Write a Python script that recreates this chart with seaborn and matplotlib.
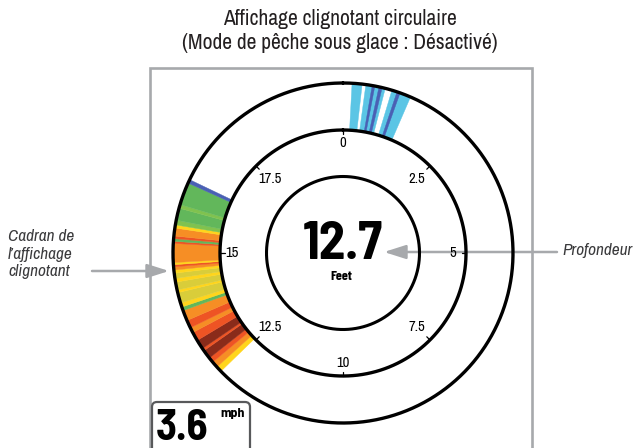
import numpy as np
import matplotlib
matplotlib.use("Agg")
import matplotlib.pyplot as plt
from matplotlib.patches import FancyBboxPatch
import seaborn as sns

# --- data ---------------------------------------------------------------
depth_reading = "12.7"
depth_unit = "Feet"
speed_reading = "3.6"
speed_unit = "mph"
dial_max = 20.0
dial_ticks = [0, 2.5, 5, 7.5, 10, 12.5, 15, 17.5]
dial_labels = ["0", "2.5", "5", "7.5", "10", "12.5", "15", "17.5"]

# surface clutter near 0 ft (start, end, strength)
surface_start = [0.17, 0.43, 0.93, 0.55, 0.68, 1.03]
surface_end = [0.36, 0.80, 1.30, 0.60, 0.74, 1.09]
surface_level = ["cyan", "cyan", "cyan", "blue", "blue", "blue"]

# bottom return around 12.6 - 16.4 ft (edges and strength between them)
bottom_edges = [12.55, 12.66, 12.78, 12.88, 13.05, 13.10, 13.28, 13.45, 13.55,
                13.70, 13.90, 13.97, 14.05, 14.25, 14.30, 14.45, 14.52, 14.62,
                14.68, 14.74, 14.78, 14.82, 15.18, 15.22, 15.27, 15.32, 15.47,
                15.53, 15.62, 15.85, 15.92, 16.35, 16.42]
bottom_level = ["yellow", "orange", "red", "darkred", "red", "darkred", "red",
                "orange", "red", "orange", "green", "yellow", "olive", "yellow",
                "olive", "yellow", "olive", "yellow", "orange", "red", "yellow",
                "orange", "red", "green", "red", "orange", "yellow", "lightgreen",
                "green", "lightgreen", "green", "blue"]

title_lines = ["Affichage clignotant circulaire",
               "(Mode de pêche sous glace : Désactivé)"]
left_label = "Cadran de\nl\u2019affichage\nclignotant"
right_label = "Profondeur"

# --- style --------------------------------------------------------------
sns.set_style("white")
plt.rcParams["font.family"] = ["Archivo Narrow", "DejaVu Sans"]
plt.rcParams["font.stretch"] = "condensed"
narrow = ["Archivo Narrow", "DejaVu Sans"]
bold_cond = ["Barlow Condensed", "DejaVu Sans"]
bold_semi = ["Barlow Semi Condensed", "DejaVu Sans"]

palette = dict(zip(
    ["cyan", "blue", "green", "lightgreen", "olive", "yellow", "orange", "red", "darkred"],
    sns.color_palette(["#5BC5E5", "#4A60B4", "#62B75B", "#80C24F", "#D9CD3A",
                       "#FFD51C", "#F68E25", "#EE5424", "#8A2B1A"])))
frame_gray = "#A7A9AC"
text_dark = "#231F20"

W, H = 639, 448
fig = plt.figure(figsize=(W / 100, H / 100), dpi=100)
bg = fig.add_axes([0, 0, 1, 1])
bg.set_xlim(0, W)
bg.set_ylim(H, 0)
bg.axis("off")

# dial geometry (pixels)
cx, cy = 343, 253
r_out, r_mid, r_in = 170, 123, 76.5

ax = fig.add_axes([(cx - r_out) / W, (H - cy - r_out) / H, 2 * r_out / W, 2 * r_out / H],
                  projection="polar")
ax.set_theta_zero_location("N")
ax.set_theta_direction(-1)
ax.set_ylim(0, r_out)
ax.set_axis_off()
ax.patch.set_visible(False)


def to_theta(d):
    return np.asarray(d, dtype=float) / dial_max * 2 * np.pi


# flasher segments
for s, e, lv in zip(surface_start, surface_end, surface_level):
    ax.bar(to_theta(s), r_out - r_mid, width=to_theta(e) - to_theta(s), bottom=r_mid,
           align="edge", color=palette[lv], edgecolor=palette[lv], linewidth=0.3, zorder=2)
for s, e, lv in zip(bottom_edges[:-1], bottom_edges[1:], bottom_level):
    ax.bar(to_theta(s), r_out - r_mid, width=to_theta(e) - to_theta(s), bottom=r_mid,
           align="edge", color=palette[lv], edgecolor=palette[lv], linewidth=0.3, zorder=2)

# rings
th = np.linspace(0, 2 * np.pi, 500)
for r, lw in [(r_out, 2.4), (r_mid, 2.4), (r_in, 2.2)]:
    ax.plot(th, np.full_like(th, r), color="black", lw=lw, clip_on=False, zorder=4)

# dial ticks and labels
for d, lab in zip(dial_ticks, dial_labels):
    t = to_theta(d)
    ax.plot([t, t], [r_mid - 4.5, r_mid], color="black", lw=0.9, zorder=4)
    rr = 110 - 6 * abs(np.sin(2 * t))
    if lab == "15":
        rr = 111
    ax.text(t, rr, lab, ha="center", va="center", fontsize=10.5, family=narrow,
            color="black", zorder=5)

# center readout
bg.text(cx, 245, depth_reading, ha="center", va="center", fontsize=38,
        fontweight="bold", family=bold_semi, color="black")
bg.text(cx - 2, 276, depth_unit, ha="center", va="center", fontsize=10,
        fontweight="bold", family=bold_cond, color="black")

# frame
bg.plot([150, 150, 532, 532], [460, 68, 68, 460], color=frame_gray, lw=1.9,
        solid_joinstyle="miter", zorder=1)

# speed box
box = FancyBboxPatch((152, 402), 98, 60, boxstyle="round,pad=0,rounding_size=5",
                     fc="white", ec="#58595B", lw=1.6, zorder=6)
bg.add_patch(box)
bg.text(156, 440, speed_reading, ha="left", va="baseline", fontsize=31,
        fontweight="bold", family=bold_semi, color="black", zorder=7)
bg.text(220, 417, speed_unit, ha="left", va="baseline", fontsize=10,
        fontweight="bold", family=bold_semi, color="black", zorder=7)

# titles
bg.text(340, 19, title_lines[0], ha="center", va="center", fontsize=15.5, color=text_dark)
bg.text(340, 43, title_lines[1], ha="center", va="center", fontsize=15.5, color=text_dark)

# callouts
arrow_kw = dict(arrowstyle="-|>,head_length=1.1,head_width=0.35", color=frame_gray,
                lw=1.8, mutation_scale=12, shrinkA=0, shrinkB=0)
bg.annotate("", xy=(169, 271), xytext=(92, 271), arrowprops=arrow_kw, zorder=8)
bg.annotate("", xy=(384, 252), xytext=(557, 252), arrowprops=arrow_kw, zorder=8)
bg.text(8, 276, left_label, ha="left", va="baseline", fontsize=12.5, style="italic",
        color="#3A3A3C", linespacing=1.2)
bg.text(562, 251, right_label, ha="left", va="center", fontsize=12.5, style="italic",
        color="#3A3A3C")

fig.savefig("out.png", dpi=100)
